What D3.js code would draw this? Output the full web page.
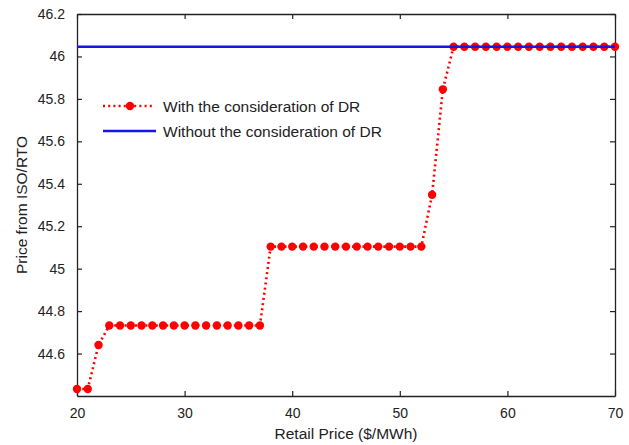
<!DOCTYPE html>
<html><head><meta charset="utf-8">
<script src="https://cdn.jsdelivr.net/npm/d3@7"></script>
<style>body{margin:0;background:#fff}svg{display:block}text{font-family:"Liberation Sans",Arial,sans-serif;fill:#222}</style>
</head><body>
<script>
const retailPrice = [20,21,22,23,24,25,26,27,28,29,30,31,32,33,34,35,36,37,38,39,40,41,42,43,44,45,46,47,48,49,50,51,52,53,54,55,56,57,58,59,60,61,62,63,64,65,66,67,68,69,70];
const priceWithDR = [44.433,44.433,44.64,44.732,44.732,44.732,44.732,44.732,44.732,44.732,44.732,44.732,44.732,44.732,44.732,44.732,44.732,44.732,
  45.104,45.104,45.104,45.104,45.104,45.104,45.104,45.104,45.104,45.104,45.104,45.104,45.104,45.104,45.104,
  45.348,45.845,46.046,46.046,46.046,46.046,46.046,46.046,46.046,46.046,46.046,46.046,46.046,46.046,46.046,46.046,46.046,46.046];
const priceWithoutDR = 46.046;
const xTicks = [20,30,40,50,60,70];
const yTicks = [44.6,44.8,45,45.2,45.4,45.6,45.8,46,46.2];
const legendLabels = ["With the consideration of DR","Without the consideration of DR"];

const W=629,H=445, L=77, R=615, T=14, B=396;
const svg=d3.select("body").append("svg").attr("width",W).attr("height",H);
const x=d3.scaleLinear().domain([20,70]).range([L,R]);
const y=d3.scaleLinear().domain([44.4,46.2]).range([B,T]);

const tickLen=5;
// bottom axis
const gx=svg.append("g").attr("transform",`translate(0,${B})`)
  .call(d3.axisBottom(x).tickValues(xTicks).tickFormat(d3.format("d")).tickSizeInner(-tickLen).tickSizeOuter(0).tickPadding(12));
const gt=svg.append("g").attr("transform",`translate(0,${T})`)
  .call(d3.axisTop(x).tickValues(xTicks).tickFormat("").tickSizeInner(-tickLen).tickSizeOuter(0));
const gy=svg.append("g").attr("transform",`translate(${L},0)`)
  .call(d3.axisLeft(y).tickValues(yTicks).tickFormat(d=>d3.format("")(+d.toFixed(1))).tickSizeInner(-tickLen).tickSizeOuter(0).tickPadding(12));
const gr=svg.append("g").attr("transform",`translate(${R},0)`)
  .call(d3.axisRight(y).tickValues(yTicks).tickFormat("").tickSizeInner(-tickLen).tickSizeOuter(0));
[gx,gt,gy,gr].forEach(g=>{
  g.select(".domain").attr("stroke","#222").attr("stroke-width",1.3);
  g.selectAll(".tick line").attr("stroke","#222").attr("stroke-width",1.2);
  g.selectAll("text").attr("font-size",14).attr("fill","#222").attr("font-family",'"Liberation Sans",Arial,sans-serif');
});

// red dotted series
const line=d3.line().x((d,i)=>x(retailPrice[i])).y(d=>y(d));
svg.append("path").datum(priceWithDR).attr("d",line).attr("fill","none")
  .attr("stroke","#ff0000").attr("stroke-width",2.6).attr("stroke-dasharray","2,3.2");
svg.append("g").selectAll("circle").data(priceWithDR).join("circle")
  .attr("cx",(d,i)=>x(retailPrice[i])).attr("cy",d=>y(d)).attr("r",4.2).attr("fill","#ff0000");
// blue line
svg.append("line").attr("x1",x(20)).attr("x2",x(70)).attr("y1",y(priceWithoutDR)).attr("y2",y(priceWithoutDR))
  .attr("stroke","#1515e6").attr("stroke-width",2.6);

// legend
const lg=svg.append("g");
lg.append("line").attr("x1",103).attr("x2",155).attr("y1",106).attr("y2",106)
  .attr("stroke","#ff0000").attr("stroke-width",2.6).attr("stroke-dasharray","2,3.2");
lg.append("circle").attr("cx",130).attr("cy",106).attr("r",4.2).attr("fill","#ff0000");
lg.append("line").attr("x1",103).attr("x2",156).attr("y1",131).attr("y2",131)
  .attr("stroke","#1515e6").attr("stroke-width",2.6);
lg.append("text").attr("x",163).attr("y",111.5).attr("font-size",15.5).text(legendLabels[0]);
lg.append("text").attr("x",163).attr("y",136.5).attr("font-size",15.5).text(legendLabels[1]);

// axis labels
svg.append("text").attr("x",(L+R)/2).attr("y",439).attr("text-anchor","middle").attr("font-size",15.5).text("Retail Price ($/MWh)");
svg.append("text").attr("transform",`translate(27,${(T+B)/2}) rotate(-90)`).attr("text-anchor","middle").attr("font-size",15.5).text("Price from ISO/RTO");
</script>
</body></html>
